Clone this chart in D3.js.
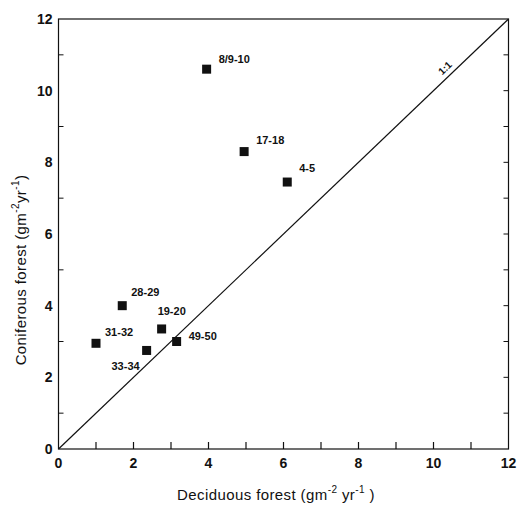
<!DOCTYPE html>
<html>
<head>
<meta charset="utf-8">
<script src="https://cdn.jsdelivr.net/npm/d3@7"></script>
<style>
  html, body { margin: 0; padding: 0; background: #fff; }
  svg { display: block; font-family: "Liberation Sans", Arial, sans-serif; }
</style>
</head>
<body>
<div id="chart"></div>
<script>
// site pairs, deciduous vs coniferous values
const sites = ['8/9-10', '17-18', '4-5', '28-29', '19-20', '31-32', '33-34', '49-50'];
const deciduous = [3.95, 4.95, 6.1, 1.7, 2.75, 1.0, 2.35, 3.15];
const coniferous = [10.6, 8.3, 7.45, 4.0, 3.35, 2.95, 2.75, 3.0];
const tickValues = [0, 2, 4, 6, 8, 10, 12];

// label placement relative to each marker (dx, dy, anchor)
const labelPos = {
  '8/9-10': [12, -6, 'start'],
  '17-18': [12, -8, 'start'],
  '4-5': [12, -10, 'start'],
  '28-29': [9, -10, 'start'],
  '19-20': [-4, -14, 'start'],
  '31-32': [9, -7, 'start'],
  '33-34': [-7, 20, 'end'],
  '49-50': [12, -2, 'start']
};

const width = 518, height = 514;
const svg = d3.select('#chart').append('svg')
  .attr('width', width)
  .attr('height', height);

const x = d3.scaleLinear().domain([0, 12]).range([58.5, 508.5]);
const y = d3.scaleLinear().domain([0, 12]).range([449, 19]);

const ink = '#111';

// frame
svg.append('rect')
  .attr('x', x(0)).attr('y', y(12))
  .attr('width', x(12) - x(0)).attr('height', y(0) - y(12))
  .attr('fill', 'none').attr('stroke', ink).attr('stroke-width', 1.2);

// bottom ticks (inward)
svg.append('g').selectAll('line')
  .data(d3.range(1, 12))
  .join('line')
  .attr('x1', d => x(d)).attr('x2', d => x(d))
  .attr('y1', y(0)).attr('y2', y(0) - 7)
  .attr('stroke', ink).attr('stroke-width', 1.2);

// left ticks (odd values only)
svg.append('g').selectAll('line')
  .data([1, 3, 5, 7, 9, 11])
  .join('line')
  .attr('x1', x(0)).attr('x2', x(0) + 5)
  .attr('y1', d => y(d)).attr('y2', d => y(d))
  .attr('stroke', ink).attr('stroke-width', 1);

// right ticks
svg.append('g').selectAll('line')
  .data(d3.range(1, 12))
  .join('line')
  .attr('x1', x(12)).attr('x2', x(12) - 5)
  .attr('y1', d => y(d)).attr('y2', d => y(d))
  .attr('stroke', ink).attr('stroke-width', 1);

// tick labels
svg.append('g').selectAll('text')
  .data(tickValues)
  .join('text')
  .attr('x', d => x(d))
  .attr('y', y(0) + 19)
  .attr('text-anchor', 'middle')
  .attr('font-size', 14).attr('font-weight', 'bold').attr('fill', ink)
  .text(d => d);

svg.append('g').selectAll('text')
  .data(tickValues)
  .join('text')
  .attr('x', x(0) - 6)
  .attr('y', d => y(d) + 5)
  .attr('text-anchor', 'end')
  .attr('font-size', 14).attr('font-weight', 'bold').attr('fill', ink)
  .text(d => d);

// 1:1 line
svg.append('line')
  .attr('x1', x(0)).attr('y1', y(0))
  .attr('x2', x(12)).attr('y2', y(12))
  .attr('stroke', ink).attr('stroke-width', 1.2);

const ang = Math.atan2(y(0) - y(12), x(12) - x(0)) * 180 / Math.PI;
svg.append('text')
  .attr('transform', `translate(${x(10.45) - 3},${y(10.45) - 4}) rotate(${-ang})`)
  .attr('text-anchor', 'middle')
  .attr('font-size', 10).attr('font-weight', 'bold').attr('fill', ink)
  .text('1:1');

// markers
const pts = sites.map((s, i) => ({ name: s, dx: deciduous[i], co: coniferous[i] }));

svg.append('g').selectAll('rect')
  .data(pts)
  .join('rect')
  .attr('x', d => x(d.dx) - 4.5)
  .attr('y', d => y(d.co) - 4.5)
  .attr('width', 9).attr('height', 9)
  .attr('fill', ink);

svg.append('g').selectAll('text')
  .data(pts)
  .join('text')
  .attr('x', d => x(d.dx) + labelPos[d.name][0])
  .attr('y', d => y(d.co) + labelPos[d.name][1])
  .attr('text-anchor', d => labelPos[d.name][2])
  .attr('font-size', 11).attr('font-weight', 'bold').attr('fill', ink)
  .text(d => d.name);

// axis titles
const xt = svg.append('text')
  .attr('x', 276).attr('y', 500)
  .attr('text-anchor', 'middle')
  .attr('font-size', 15).attr('letter-spacing', 0.4).attr('fill', ink);
xt.append('tspan').text('Deciduous forest (gm');
xt.append('tspan').attr('dy', -7).attr('font-size', 10).text('-2');
xt.append('tspan').attr('dy', 7).text(' yr');
xt.append('tspan').attr('dy', -7).attr('font-size', 10).text('-1');
xt.append('tspan').attr('dy', 7).text(' )');

const yt = svg.append('text')
  .attr('transform', 'translate(26,270) rotate(-90)')
  .attr('text-anchor', 'middle')
  .attr('font-size', 15).attr('letter-spacing', 0.4).attr('fill', ink);
yt.append('tspan').text('Coniferous forest (gm');
yt.append('tspan').attr('dy', -7).attr('font-size', 10).text('-2');
yt.append('tspan').attr('dy', 7).text('yr');
yt.append('tspan').attr('dy', -7).attr('font-size', 10).text('-1');
yt.append('tspan').attr('dy', 7).text(')');
</script>
</body>
</html>
